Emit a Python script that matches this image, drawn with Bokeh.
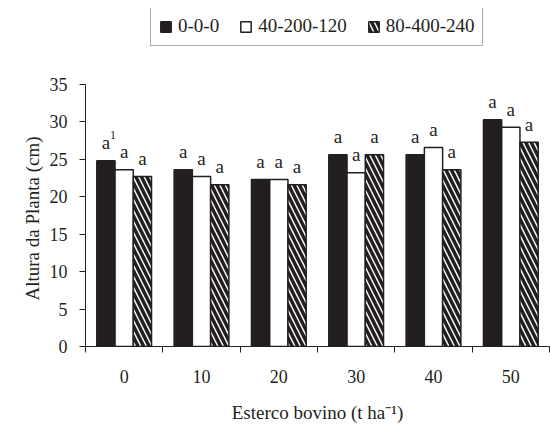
from bokeh.plotting import figure
from bokeh.models import FixedTicker, Legend, LegendItem, Range1d, ColumnDataSource, Title
from bokeh.core.properties import value
from bokeh.embed import file_html
from bokeh.resources import INLINE

# ---- data ----
categories = ["0", "10", "20", "30", "40", "50"]
series_names = ["0-0-0", "40-200-120", "80-400-240"]
altura_000 = [24.8, 23.6, 22.3, 25.6, 25.6, 30.3]
altura_40_200_120 = [23.6, 22.7, 22.3, 23.2, 26.6, 29.3]
altura_80_400_240 = [22.7, 21.6, 21.6, 25.6, 23.6, 27.3]
letters_000 = ["a", "a", "a", "a", "a", "a"]
letters_40_200_120 = ["a", "a", "a", "a", "a", "a"]
letters_80_400_240 = ["a", "a", "a", "a", "a", "a"]
footnote_000 = ["1", "", "", "", "", ""]
y_ticks = [0, 5, 10, 15, 20, 25, 30, 35]
y_max = 35
x_title = "Esterco bovino (t ha\u207b\u00b9)"
y_title = "Altura da Planta (cm)"

FONT = "Liberation Serif"
INK = "#231f20"

# frame: top at 8 px (room for the legend), bottom at 346 px; 35 sits at 84 px
FRAME_TOP, AXIS_TOP, FRAME_BOTTOM = 8, 84, 346
y_end = y_max * (FRAME_BOTTOM - FRAME_TOP) / (FRAME_BOTTOM - AXIS_TOP)

p = figure(width=550, height=428, output_backend="svg", toolbar_location=None,
           x_range=Range1d(0, len(categories)), y_range=Range1d(0, y_end),
           min_border_left=85, min_border_right=1, min_border_top=FRAME_TOP,
           min_border_bottom=428 - FRAME_BOTTOM)
p.outline_line_color = None
p.grid.visible = False
p.background_fill_color = "white"
p.border_fill_color = "white"

centers = [i + 0.5 for i in range(len(categories))]
bw = 0.236
offsets = [-bw, 0.0, bw]
series = [altura_000, altura_40_200_120, altura_80_400_240]
letters = [letters_000, letters_40_200_120, letters_80_400_240]

styles = [
    dict(fill_color=INK, line_color=INK),
    dict(fill_color="white", line_color=INK),
    dict(fill_color="white", line_color=INK, hatch_pattern="left_diagonal_line",
         hatch_color=INK, hatch_weight=3.5, hatch_scale=11),
]

renderers = []
for k in range(3):
    xs = [c + offsets[k] for c in centers]
    src = ColumnDataSource(dict(x=xs, top=series[k], lab=letters[k]))
    r = p.vbar(x="x", top="top", width=bw, bottom=0, source=src, line_width=1.5, **styles[k])
    renderers.append(r)
    p.text(x="x", y="top", text="lab", source=src, text_align="center",
           text_baseline="alphabetic", y_offset=-18, text_font=value(FONT),
           text_font_size="19px", text_color=INK)

# footnote superscript on the first label
xs0 = [c + offsets[0] for c in centers]
src_a = ColumnDataSource(dict(x=xs0, y=altura_000, sup=footnote_000))
p.text(x="x", y="y", text="sup", source=src_a, text_align="left",
       text_baseline="alphabetic", x_offset=4, y_offset=-26, text_font=value(FONT),
       text_font_size="12px", text_color=INK)

# axes
yax = p.yaxis[0]
yax.ticker = FixedTicker(ticks=y_ticks)
yax.bounds = (0, y_max)
xax = p.xaxis[0]
xax.ticker = FixedTicker(ticks=centers, minor_ticks=list(range(len(categories) + 1)))
xax.major_label_overrides = {c: lab for c, lab in zip(centers, categories)}
xax.axis_label = x_title
xax.major_tick_out = 0
xax.major_tick_in = 0
xax.minor_tick_out = 6
xax.minor_tick_in = 0
yax.major_tick_out = 6
yax.major_tick_in = 0
yax.minor_tick_out = 0
yax.minor_tick_in = 0
for ax in (xax, yax):
    ax.axis_line_color = INK
    ax.axis_line_width = 1
    ax.major_tick_line_color = INK
    ax.minor_tick_line_color = INK
    ax.major_label_text_font = FONT
    ax.major_label_text_font_size = "18px"
    ax.major_label_text_color = INK
    ax.axis_label_text_font = FONT
    ax.axis_label_text_font_size = "19px"
    ax.axis_label_text_font_style = "normal"
    ax.axis_label_text_color = INK
xax.major_label_standoff = 17
xax.axis_label_standoff = 16
yax.major_label_standoff = 12

# y title: vertical title on the left, started 46 px above the frame bottom so that
# it is centred on the drawn 0-35 axis rather than on the taller frame
y_title_model = Title(text=y_title, align="left", offset=46, standoff=8,
                      text_font=FONT, text_font_size="19px", text_font_style="normal",
                      text_color=INK)
p.add_layout(y_title_model, "left")

legend = Legend(items=[LegendItem(label=n, renderers=[r]) for n, r in zip(series_names, renderers)],
                location=(65, FRAME_BOTTOM - 46), orientation="horizontal",
                label_text_font=FONT, label_text_font_size="19px", label_text_color=INK,
                glyph_width=13, glyph_height=13, label_standoff=6, spacing=20, padding=8,
                margin=0, border_line_color="#555555", border_line_width=1,
                background_fill_color="white", background_fill_alpha=1.0)
p.add_layout(legend, "center")

open("out.html", "w").write(file_html(p, INLINE))
